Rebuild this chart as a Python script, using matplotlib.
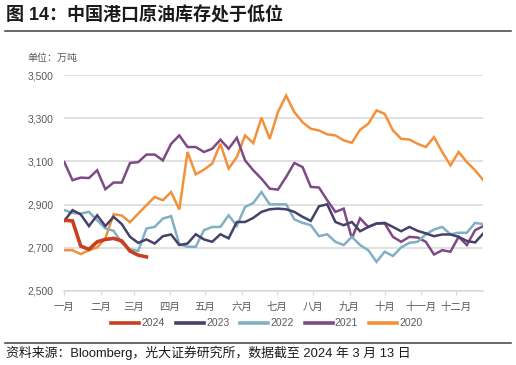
import matplotlib
matplotlib.use('Agg')
from matplotlib import pyplot as plt
from matplotlib.lines import Line2D

plt.rcParams['font.family'] = ['Liberation Sans', 'Noto Sans CJK SC']

# weekly readings, day-of-year 0, 7, 14, ...
y2024 = [2827, 2824, 2707, 2692, 2727, 2738, 2743, 2731, 2684, 2665, 2657]
y2023 = [2824, 2874, 2854, 2800, 2850, 2800, 2843, 2809, 2750, 2722,
         2738, 2719, 2753, 2761, 2712, 2719, 2762, 2738, 2727, 2762,
         2743, 2819, 2819, 2838, 2866, 2878, 2881, 2878, 2866, 2843,
         2824, 2892, 2901, 2819, 2804, 2819, 2776, 2796, 2812, 2815,
         2796, 2776, 2796, 2778, 2766, 2753, 2761, 2761, 2750, 2731,
         2724, 2766]
y2022 = [2874, 2861, 2858, 2866, 2827, 2789, 2778, 2722, 2692, 2685,
         2789, 2796, 2835, 2846, 2716, 2704, 2704, 2781, 2796, 2796,
         2850, 2801, 2889, 2907, 2958, 2901, 2901, 2901, 2831, 2815,
         2804, 2753, 2762, 2727, 2712, 2750, 2712, 2688, 2634, 2681,
         2661, 2701, 2722, 2727, 2762, 2784, 2796, 2762, 2769, 2769,
         2815, 2809]
y2021 = [3097, 3013, 3025, 3023, 3059, 2971, 3002, 3002, 3093, 3097,
         3132, 3132, 3105, 3182, 3221, 3167, 3167, 3144, 3159, 3201,
         3159, 3210, 3105, 3059, 3020, 2974, 2969, 3028, 3093, 3074,
         2982, 2979, 2920, 2866, 2881, 2743, 2836, 2796, 2812, 2812,
         2750, 2727, 2750, 2747, 2727, 2668, 2688, 2681, 2750, 2712,
         2781, 2800]
y2020 = [2688, 2688, 2670, 2688, 2701, 2743, 2855, 2849, 2818, 2858,
         2897, 2935, 2920, 2958, 2877, 3144, 3040, 3062, 3090, 3182,
         3067, 3120, 3221, 3185, 3303, 3205, 3329, 3406, 3329, 3282,
         3252, 3244, 3226, 3221, 3198, 3187, 3247, 3275, 3337, 3321,
         3244, 3205, 3202, 3182, 3167, 3213, 3144, 3082, 3144, 3097,
         3059, 3013]

months = ['一月', '二月', '三月', '四月', '五月', '六月',
          '七月', '八月', '九月', '十月', '十一月', '十二月']
month_start = [0, 31, 59, 90, 120, 151, 181, 212, 243, 273, 304, 334]

series = [
    ('2024', y2024, '#c8401f', 2.6),
    ('2023', y2023, '#46416a', 1.8),
    ('2022', y2022, '#80b0c4', 1.8),
    ('2021', y2021, '#7e4a86', 1.8),
    ('2020', y2020, '#f3913a', 1.8),
]

fig = plt.figure(figsize=(5.16, 3.65), dpi=100)
W, H = 516, 365
ax = fig.add_axes([64.3 / W, 1 - 290.7 / H, (483.3 - 64.3) / W, (290.7 - 75.3) / H])

for name, vals, col, lw in reversed(series):
    days = [7 * i for i in range(len(vals))]
    ax.plot(days, vals, color=col, lw=lw, label=name, solid_joinstyle='miter')

ax.set_xlim(0, 357)
ax.set_ylim(2500, 3500)
ax.set_yticks(range(2500, 3501, 200))
ax.set_yticklabels([f'{v:,}' for v in range(2500, 3501, 200)])
ax.set_xticks(month_start)
ax.set_xticklabels(months)
ax.grid(axis='y', color='#d9d9d9', lw=1.1)
ax.set_axisbelow(True)
for s in ['top', 'right', 'left']:
    ax.spines[s].set_visible(False)
ax.spines['bottom'].set_color('#d9d9d9')
ax.spines['bottom'].set_linewidth(1.1)
ax.tick_params(axis='y', length=0, pad=8, labelsize=7.5, labelcolor='#595959')
ax.tick_params(axis='x', length=3, color='#d9d9d9', pad=5, labelsize=7.5, labelcolor='#595959')

handles, labels = ax.get_legend_handles_labels()
handles, labels = handles[::-1], labels[::-1]
leg = fig.legend(handles, labels, loc='center', bbox_to_anchor=(267 / W, 1 - 323.3 / H),
                 ncol=5, frameon=False, handlelength=2.7, handletextpad=0.2,
                 columnspacing=1.05, fontsize=7.5)
for t in leg.get_texts():
    t.set_color('#595959')
for h in leg.legend_handles:
    h.set_linewidth(2.6)

fig.text(6 / W, 1 - 15.5 / H, '图 14：中国港口原油库存处于低位', fontsize=13,
         fontweight='bold', va='center', ha='left', color='#1a1a1a')
fig.add_artist(Line2D([5 / W, 511 / W], [1 - 31 / H] * 2, color='#404040', lw=1.1))
fig.text(27 / W, 1 - 58.3 / H, '单位：万吨', fontsize=7.2, va='center', ha='left', color='#595959')
fig.add_artist(Line2D([5 / W, 511 / W], [1 - 342.7 / H] * 2, color='#404040', lw=1.1))
fig.text(6 / W, 1 - 353 / H, '资料来源：Bloomberg，光大证券研究所，数据截至 2024 年 3 月 13 日',
         fontsize=9.3, va='center', ha='left', color='#1a1a1a')

fig.savefig('out.png', dpi=100)
